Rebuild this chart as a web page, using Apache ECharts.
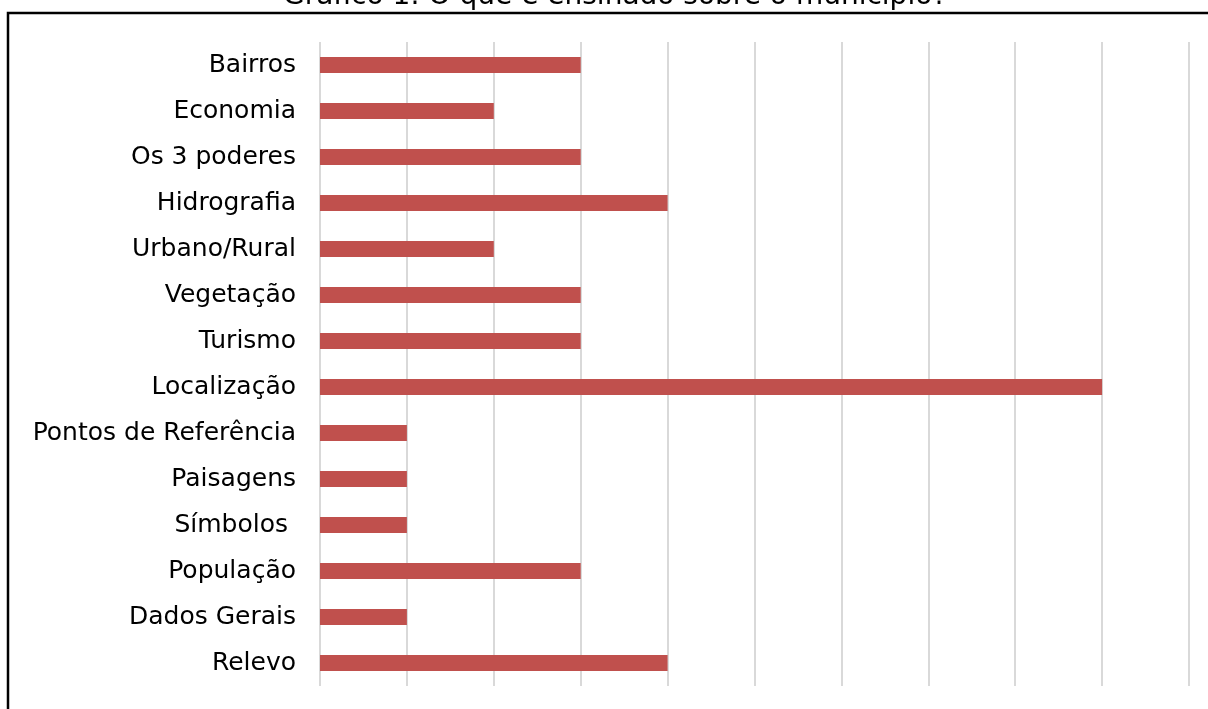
<!DOCTYPE html>
<html lang="pt">

<head>
    <meta charset="UTF-8">
    <title>Gráfico 1</title>
    <script src="https://cdn.jsdelivr.net/npm/echarts@6/dist/echarts.min.js"></script>
    <style>
        body { margin: 0; background: #fff; }
    </style>
</head>

<body>
    <div id="main" style="width: 1208px;height:709px;"></div>
    <script type="text/javascript">
        var myChart = echarts.init(document.getElementById('main'));

        // categorias (de cima para baixo)
        var categorias = ['Bairros', 'Economia', 'Os 3 poderes', 'Hidrografia', 'Urbano/Rural', 'Vegetação',
            'Turismo', 'Localização', 'Pontos de Referência', 'Paisagens', 'Símbolos ', 'População',
            'Dados Gerais', 'Relevo'];
        // valores
        var valores = [3, 2, 3, 4, 2, 3, 3, 9, 1, 1, 1, 3, 1, 4];

        var option = {
            animation: false,
            title: {
                text: 'Gráfico 1: O que é ensinado sobre o município?',
                left: 278,
                top: -22,
                textStyle: {
                    fontFamily: 'DejaVu Sans',
                    fontWeight: 'normal',
                    fontSize: 28,
                    color: '#000'
                }
            },
            // moldura
            graphic: [{
                type: 'rect',
                shape: { x: 8, y: 13, width: 1300, height: 800 },
                style: { fill: 'none', stroke: '#000', lineWidth: 2.5 },
                silent: true
            }],
            grid: {
                left: 320,
                right: 19,
                top: 42,
                bottom: 23
            },
            xAxis: {
                type: 'value',
                min: 0,
                max: 10,
                interval: 1,
                axisLabel: { show: false },
                axisLine: { show: false },
                axisTick: { show: false },
                splitLine: {
                    show: true,
                    lineStyle: { color: '#d9d9d9', width: 2 }
                }
            },
            yAxis: {
                type: 'category',
                inverse: true,
                data: categorias,
                axisLine: { show: false },
                axisTick: { show: false },
                axisLabel: {
                    margin: 24,
                    color: '#000',
                    fontFamily: 'DejaVu Sans',
                    fontSize: 25,
                    padding: [3, 0, 0, 0]
                }
            },
            series: [{
                type: 'bar',
                data: valores,
                barWidth: 16,
                itemStyle: { color: '#c0504d' }
            }]
        };

        myChart.setOption(option);
    </script>
</body>

</html>
